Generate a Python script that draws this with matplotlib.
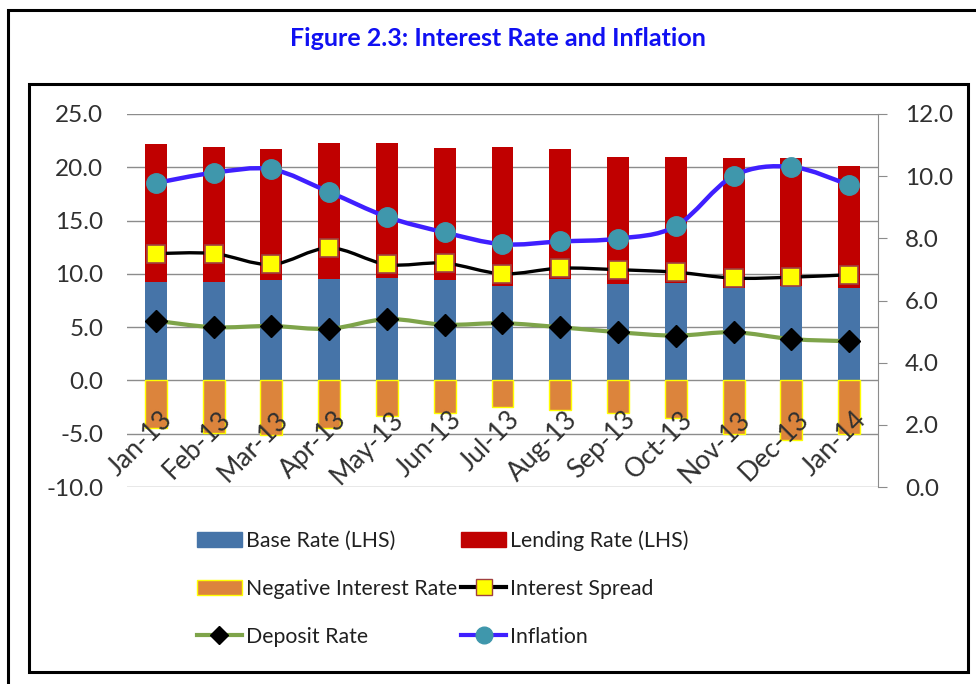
import numpy as np
import matplotlib
matplotlib.use("Agg")
import matplotlib.pyplot as plt
from matplotlib.path import Path
from matplotlib.patches import PathPatch, Patch, Rectangle
from matplotlib.lines import Line2D
from matplotlib.transforms import offset_copy

plt.rcParams['font.family'] = ['Lato', 'DejaVu Sans']

months = ["Jan-13", "Feb-13", "Mar-13", "Apr-13", "May-13", "Jun-13", "Jul-13",
          "Aug-13", "Sep-13", "Oct-13", "Nov-13", "Dec-13", "Jan-14"]
base_rate = [9.28, 9.28, 9.41, 9.56, 9.65, 9.44, 8.87, 9.50, 9.09, 9.13, 8.71, 8.87, 8.71]
lending_rate = [12.92, 12.67, 12.29, 12.76, 12.61, 12.38, 13.08, 12.20, 11.89, 11.85, 12.14, 11.98, 11.42]
negative_rate = [-4.46, -4.93, -5.08, -4.46, -3.36, -3.05, -2.51, -2.73, -3.05, -3.52, -5.02, -5.55, -5.02]
spread = [7.51, 7.51, 7.16, 7.69, 7.16, 7.20, 6.86, 7.04, 6.99, 6.91, 6.72, 6.75, 6.83]
deposit = [5.35, 5.14, 5.18, 5.09, 5.40, 5.22, 5.27, 5.14, 4.98, 4.87, 4.98, 4.76, 4.69]
inflation = [9.78, 10.11, 10.22, 9.49, 8.69, 8.19, 7.81, 7.90, 7.99, 8.39, 10.01, 10.30, 9.72]

c_base = "#4674A8"
c_lend = "#C00000"
c_neg = "#DC843C"
c_spread = "black"
c_dep = "#7EA44A"
c_inf = "#3F1FFF"
c_inf_m = "#3F97AC"


def smooth_path(x, y):
    # excel-like smoothed line: catmull-rom as cubic bezier
    pts = np.column_stack([x, y]).astype(float)
    n = len(pts)
    verts = [pts[0]]
    codes = [Path.MOVETO]
    for i in range(n - 1):
        p0 = pts[max(i - 1, 0)]
        p1 = pts[i]
        p2 = pts[i + 1]
        p3 = pts[min(i + 2, n - 1)]
        verts += [p1 + (p2 - p0) / 6, p2 - (p3 - p1) / 6, p2]
        codes += [Path.CURVE4] * 3
    return Path(verts, codes)


fig = plt.figure(figsize=(9.76, 6.84), dpi=100)

# frames
fig.patches.append(Rectangle((7.5 / 976, -0.1), 1.2, 1 - 10 / 684 + 0.1,
                             transform=fig.transFigure, fill=False,
                             edgecolor="black", lw=2.2))
fig.patches.append(Rectangle((29 / 976, 1 - 672 / 684), 939 / 976, 588 / 684,
                             transform=fig.transFigure, fill=False,
                             edgecolor="black", lw=2.2))

fig.text(498 / 976, 1 - 38 / 684, "Figure 2.3: Interest Rate and Inflation",
         ha="center", va="center", fontsize=18, fontweight="bold", color="#1010F2")

ax = fig.add_axes([127 / 976, 1 - 487 / 684, 751 / 976, 373 / 684])
x = np.arange(len(months))
w = 0.38

ax.bar(x, base_rate, w, color=c_base, zorder=2)
ax.bar(x, lending_rate, w, bottom=base_rate, color=c_lend, zorder=2)
ax.bar(x, negative_rate, w, color=c_neg, edgecolor="#FFFF00", linewidth=1, zorder=2)

ax.set_xlim(-0.5, len(months) - 0.5)
ax.set_ylim(-10, 25)
ax.set_yticks(np.arange(-10, 26, 5))
ax.set_yticklabels([f"{v:.1f}" for v in np.arange(-10, 26, 5)])
ax.set_xticks([])
ax.yaxis.grid(True, color="#8C8C8C", lw=1)
ax.set_axisbelow(True)
for s in ax.spines.values():
    s.set_visible(False)
ax.tick_params(axis="y", length=0, pad=17, labelsize=17.5, labelcolor="#303030")

lab_tr = offset_copy(ax.transData, fig=fig, x=3, y=-19, units="points")
for i, m in enumerate(months):
    ax.text(i, 0, m, transform=lab_tr, rotation=45, ha="right", va="top",
            rotation_mode="anchor", fontsize=19, color="#303030", zorder=5)

ax2 = ax.twinx()
ax2.set_ylim(0, 12)
ax2.set_yticks(np.arange(0, 13, 2))
ax2.set_yticklabels([f"{v:.1f}" for v in np.arange(0, 13, 2)])
for s in ["top", "left", "bottom"]:
    ax2.spines[s].set_visible(False)
ax2.spines["right"].set_color("#8C8C8C")
ax2.tick_params(axis="y", length=6.5, color="#8C8C8C", pad=13, labelsize=17.5,
                labelcolor="#303030")

ax2.add_patch(PathPatch(smooth_path(x, deposit), fill=False, edgecolor=c_dep, lw=3, zorder=3))
ax2.plot(x, deposit, ls="none", marker="D", ms=11, mfc="black", mec="black", zorder=4)
ax2.add_patch(PathPatch(smooth_path(x, spread), fill=False, edgecolor=c_spread, lw=2.4, zorder=3))
ax2.plot(x, spread, ls="none", marker="s", ms=13, mfc="#FFFF00", mec="#A04040", mew=1.2, zorder=4)
ax2.add_patch(PathPatch(smooth_path(x, inflation), fill=False, edgecolor=c_inf, lw=3.2, zorder=3))
ax2.plot(x, inflation, ls="none", marker="o", ms=14, mfc=c_inf_m, mec=c_inf_m, zorder=4)

handles = [
    Patch(facecolor=c_base, edgecolor=c_base),
    Patch(facecolor=c_neg, edgecolor="#FFFF00"),
    Line2D([], [], color=c_dep, lw=3, marker="D", ms=9, mfc="black", mec="black"),
    Patch(facecolor=c_lend, edgecolor=c_lend),
    Line2D([], [], color=c_spread, lw=3, marker="s", ms=11, mfc="#FFFF00", mec="#A04040"),
    Line2D([], [], color=c_inf, lw=3, marker="o", ms=12, mfc=c_inf_m, mec=c_inf_m),
]
labels = ["Base Rate (LHS)", "Negative Interest Rate", "Deposit Rate",
          "Lending Rate (LHS)", "Interest Spread", "Inflation"]
fig.legend(handles, labels, ncol=2, loc="upper left",
           bbox_to_anchor=(197 / 976, 1 - 530 / 684), frameon=False,
           fontsize=15.3, handlelength=2.1, handletextpad=0.2, columnspacing=0.2,
           labelspacing=1.32, borderpad=0, borderaxespad=0, labelcolor="#202020")

fig.savefig("out.png", dpi=100)
